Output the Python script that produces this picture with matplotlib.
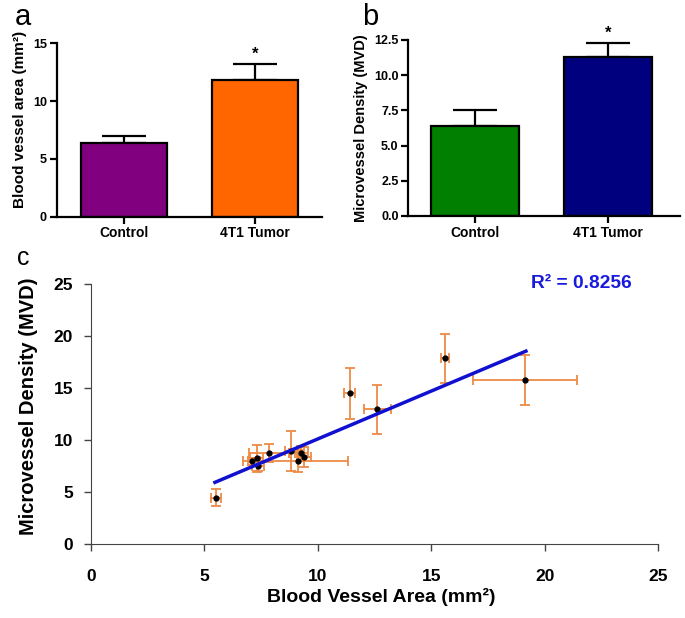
import numpy as np
import matplotlib
matplotlib.use("Agg")
from matplotlib import pyplot as plt

plt.rcParams['font.family'] = ['Liberation Sans', 'DejaVu Sans']

# panel a / b data
groups = ["Control", "4T1 Tumor"]
area_mean = [6.4, 11.8]
area_err = [0.6, 1.4]
area_colors = ["#800080", "#FF6600"]
mvd_mean = [6.4, 11.3]
mvd_bar_err = [1.1, 0.97]
mvd_colors = ["#007F00", "#00007F"]

# panel c data (per-tumor area vs MVD)
vessel_area = [5.5, 7.08, 7.3, 7.36, 7.84, 8.83, 9.13, 9.27, 9.38, 11.4, 12.61, 15.6, 19.13]
vessel_area_err = [0.23, 0.37, 0.3, 0.25, 0.9, 0.3, 2.2, 0.3, 0.3, 0.24, 0.6, 0.19, 2.3]
mvd = [4.45, 7.95, 8.24, 7.53, 8.78, 8.94, 7.98, 8.75, 8.37, 14.52, 12.95, 17.86, 15.8]
mvd_err = [0.8, 0.3, 1.33, 0.5, 0.85, 1.9, 1.04, 0.7, 1.0, 2.45, 2.35, 2.4, 2.4]
fit_slope = 0.922
fit_intercept = 0.9
fit_range = [5.46, 19.16]
r2_text = "R² = 0.8256"

fig = plt.figure(figsize=(6.85, 6.18), dpi=100)


def bar_panel(rect, means, errs, colors, yticks, ticklabels, ylabel, ylabel_size, ylabel_y, xlim):
    ax = fig.add_axes(rect)
    x = np.arange(len(means))
    ax.bar(x, means, width=0.66, color=colors, edgecolor="black", linewidth=1.6, zorder=2)
    ax.errorbar(x, means, yerr=[np.zeros(len(errs)), errs], fmt="none", ecolor="black",
                elinewidth=1.6, capsize=16, capthick=1.6, zorder=1)
    ax.annotate("*", (1, means[1] + errs[1]), xytext=(0, 2), textcoords="offset points",
                ha="center", va="bottom", fontsize=12, fontweight="bold")
    ax.set_xlim(xlim)
    ax.set_ylim(yticks[0], yticks[-1])
    ax.set_yticks(yticks)
    ax.set_yticklabels(ticklabels, fontsize=9, fontweight="bold")
    ax.set_xticks(x)
    ax.set_xticklabels(groups, fontsize=10, fontweight="bold")
    ax.set_ylabel(ylabel, fontsize=ylabel_size, fontweight="bold", labelpad=4)
    ax.yaxis.label.set_y(ylabel_y)
    for s in ["top", "right"]:
        ax.spines[s].set_visible(False)
    for s in ["left", "bottom"]:
        ax.spines[s].set_linewidth(1.6)
    ax.tick_params(width=1.6, length=5, pad=2)
    return ax


bar_panel([0.0828, 0.6494, 0.3868, 0.2805], area_mean, area_err, area_colors,
          [0, 5, 10, 15], ["0", "5", "10", "15"], "Blood vessel area (mm²)", 11, 0.56,
          (-0.517, 1.51))
bar_panel([0.596, 0.6505, 0.3967, 0.2848], mvd_mean, mvd_bar_err, mvd_colors,
          [0, 2.5, 5, 7.5, 10, 12.5], ["0.0", "2.5", "5.0", "7.5", "10.0", "12.5"],
          "Microvessel Density (MVD)", 10.5, 0.5, (-0.50, 1.54))
fig.text(0.022, 0.959, "a", fontsize=21, ha="left", va="baseline")
fig.text(0.528, 0.959, "b", fontsize=21, ha="left", va="baseline")

# panel c
ax = fig.add_axes([0.1328, 0.1197, 0.8285, 0.4203])
ax.errorbar(vessel_area, mvd, xerr=vessel_area_err, yerr=mvd_err, fmt="o", color="black",
            markersize=3.5, ecolor="#EE8A45", elinewidth=1.3, capsize=3.5, capthick=1.3, zorder=2)
fx = np.array(fit_range)
ax.plot(fx, fit_slope * fx + fit_intercept, color="#1010D0", linewidth=2.5, zorder=3)
ax.text(19.4, 25.1, r2_text, color="#1A1ADC", fontsize=13.8, fontweight="bold", va="center")
ax.set_xlim(0, 25)
ax.set_ylim(0, 25)
ax.set_xticks(np.arange(0, 26, 5))
ax.set_yticks(np.arange(0, 26, 5))
ax.tick_params(labelsize=12.5, width=1.0, length=5, color="#444444")
ax.tick_params(axis="x", pad=13)
ax.tick_params(axis="y", pad=8)
for lab in ax.get_xticklabels() + ax.get_yticklabels():
    lab.set_fontweight("bold")
for s in ["top", "right"]:
    ax.spines[s].set_visible(False)
for s in ["left", "bottom"]:
    ax.spines[s].set_color("#444444")
ax.set_xlabel("Blood Vessel Area (mm²)", fontsize=14, fontweight="bold", labelpad=3)
ax.xaxis.label.set_x(0.512)
ax.set_ylabel("Microvessel Density (MVD)", fontsize=14.5, fontweight="bold", labelpad=11)
ax.yaxis.label.set_y(0.53)
fig.text(0.025, 0.572, "c", fontsize=18, ha="left", va="baseline")

fig.savefig("out.png", dpi=100)
